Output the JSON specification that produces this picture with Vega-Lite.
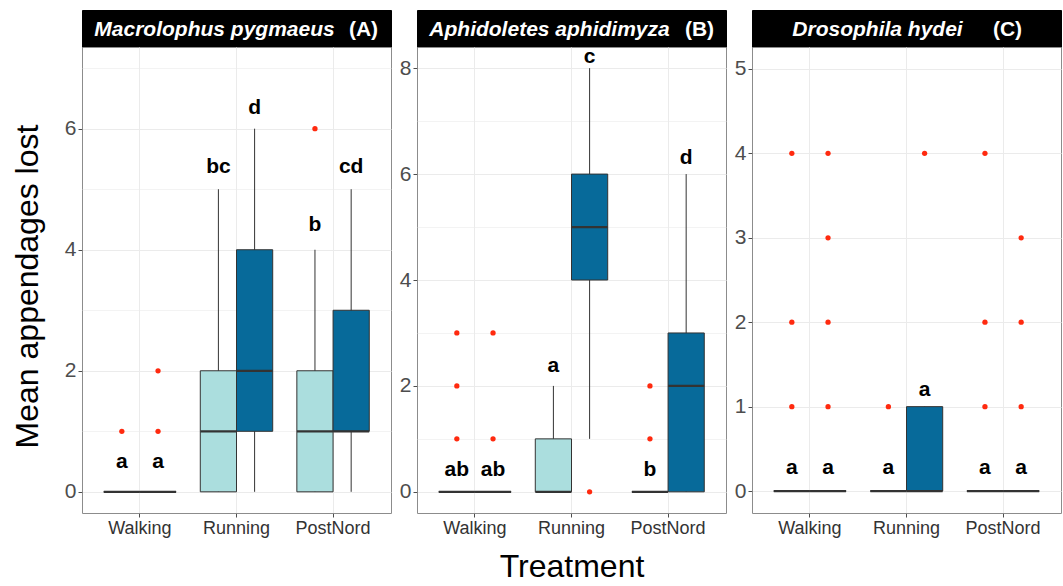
{
  "$schema": "https://vega.github.io/schema/vega-lite/v6.json",
  "background": "white",
  "padding": {"left": 10, "top": 9, "right": 3, "bottom": 5},
  "config": {
    "font": "Liberation Sans",
    "view": {"stroke": "#8c8c8c", "strokeWidth": 1},
    "axis": {
      "domain": false,
      "tickColor": "#4d4d4d",
      "tickSize": 4,
      "labelColor": "#4d4d4d",
      "labelFont": "Liberation Sans",
      "titleFont": "Liberation Sans",
      "titleFontSize": 32,
      "titleFontWeight": "normal",
      "titleColor": "black",
      "gridColor": "#ebebeb"
    }
  },
  "datasets": {
    "boxes": [
      {"panel": "A", "Treatment": "Walking", "group": "1", "lower": 0, "q1": 0, "median": 0, "q3": 0, "upper": 0, "label": "a", "labelY": 0.4},
      {"panel": "A", "Treatment": "Walking", "group": "2", "lower": 0, "q1": 0, "median": 0, "q3": 0, "upper": 0, "label": "a", "labelY": 0.4},
      {"panel": "A", "Treatment": "Running", "group": "1", "lower": 0, "q1": 0, "median": 1, "q3": 2, "upper": 5, "label": "bc", "labelY": 5.26},
      {"panel": "A", "Treatment": "Running", "group": "2", "lower": 0, "q1": 1, "median": 2, "q3": 4, "upper": 6, "label": "d", "labelY": 6.25},
      {"panel": "A", "Treatment": "PostNord", "group": "1", "lower": 0, "q1": 0, "median": 1, "q3": 2, "upper": 4, "label": "b", "labelY": 4.31},
      {"panel": "A", "Treatment": "PostNord", "group": "2", "lower": 0, "q1": 1, "median": 1, "q3": 3, "upper": 5, "label": "cd", "labelY": 5.26},
      {"panel": "B", "Treatment": "Walking", "group": "1", "lower": 0, "q1": 0, "median": 0, "q3": 0, "upper": 0, "label": "ab", "labelY": 0.3},
      {"panel": "B", "Treatment": "Walking", "group": "2", "lower": 0, "q1": 0, "median": 0, "q3": 0, "upper": 0, "label": "ab", "labelY": 0.3},
      {"panel": "B", "Treatment": "Running", "group": "1", "lower": 0, "q1": 0, "median": 0, "q3": 1, "upper": 2, "label": "a", "labelY": 2.27},
      {"panel": "B", "Treatment": "Running", "group": "2", "lower": 1, "q1": 4, "median": 5, "q3": 6, "upper": 8, "label": "c", "labelY": 8.09},
      {"panel": "B", "Treatment": "PostNord", "group": "1", "lower": 0, "q1": 0, "median": 0, "q3": 0, "upper": 0, "label": "b", "labelY": 0.3},
      {"panel": "B", "Treatment": "PostNord", "group": "2", "lower": 0, "q1": 0, "median": 2, "q3": 3, "upper": 6, "label": "d", "labelY": 6.2},
      {"panel": "C", "Treatment": "Walking", "group": "1", "lower": 0, "q1": 0, "median": 0, "q3": 0, "upper": 0, "label": "a", "labelY": 0.2},
      {"panel": "C", "Treatment": "Walking", "group": "2", "lower": 0, "q1": 0, "median": 0, "q3": 0, "upper": 0, "label": "a", "labelY": 0.2},
      {"panel": "C", "Treatment": "Running", "group": "1", "lower": 0, "q1": 0, "median": 0, "q3": 0, "upper": 0, "label": "a", "labelY": 0.2},
      {"panel": "C", "Treatment": "Running", "group": "2", "lower": 0, "q1": 0, "median": 0, "q3": 1, "upper": 1, "label": "a", "labelY": 1.13},
      {"panel": "C", "Treatment": "PostNord", "group": "1", "lower": 0, "q1": 0, "median": 0, "q3": 0, "upper": 0, "label": "a", "labelY": 0.2},
      {"panel": "C", "Treatment": "PostNord", "group": "2", "lower": 0, "q1": 0, "median": 0, "q3": 0, "upper": 0, "label": "a", "labelY": 0.2}
    ],
    "outliers": [
      {"panel": "A", "Treatment": "Walking", "group": "1", "value": 1},
      {"panel": "A", "Treatment": "Walking", "group": "2", "value": 1},
      {"panel": "A", "Treatment": "Walking", "group": "2", "value": 2},
      {"panel": "A", "Treatment": "PostNord", "group": "1", "value": 6},
      {"panel": "B", "Treatment": "Walking", "group": "1", "value": 1},
      {"panel": "B", "Treatment": "Walking", "group": "1", "value": 2},
      {"panel": "B", "Treatment": "Walking", "group": "1", "value": 3},
      {"panel": "B", "Treatment": "Walking", "group": "2", "value": 1},
      {"panel": "B", "Treatment": "Walking", "group": "2", "value": 3},
      {"panel": "B", "Treatment": "Running", "group": "2", "value": 0},
      {"panel": "B", "Treatment": "PostNord", "group": "1", "value": 1},
      {"panel": "B", "Treatment": "PostNord", "group": "1", "value": 2},
      {"panel": "C", "Treatment": "Walking", "group": "1", "value": 1},
      {"panel": "C", "Treatment": "Walking", "group": "1", "value": 2},
      {"panel": "C", "Treatment": "Walking", "group": "1", "value": 4},
      {"panel": "C", "Treatment": "Walking", "group": "2", "value": 1},
      {"panel": "C", "Treatment": "Walking", "group": "2", "value": 2},
      {"panel": "C", "Treatment": "Walking", "group": "2", "value": 3},
      {"panel": "C", "Treatment": "Walking", "group": "2", "value": 4},
      {"panel": "C", "Treatment": "Running", "group": "1", "value": 1},
      {"panel": "C", "Treatment": "Running", "group": "2", "value": 4},
      {"panel": "C", "Treatment": "PostNord", "group": "1", "value": 1},
      {"panel": "C", "Treatment": "PostNord", "group": "1", "value": 2},
      {"panel": "C", "Treatment": "PostNord", "group": "1", "value": 4},
      {"panel": "C", "Treatment": "PostNord", "group": "2", "value": 1},
      {"panel": "C", "Treatment": "PostNord", "group": "2", "value": 2},
      {"panel": "C", "Treatment": "PostNord", "group": "2", "value": 3}
    ]
  },
  "bounds": "flush",
  "columns": 3,
  "spacing": {"row": 0, "column": 26},
  "concat": [
    {
      "width": 309, "height": 37,
      "view": {"fill": "black", "stroke": "black"},
      "data": {"values": [{"species": "Macrolophus pygmaeus", "code": "(A)"}]},
      "layer": [
        {"mark": {"type": "text", "color": "white", "fontSize": 21, "fontWeight": "bold", "fontStyle": "italic", "baseline": "middle", "dx": -22, "dy": 1}, "encoding": {"text": {"field": "species"}}},
        {"mark": {"type": "text", "color": "white", "fontSize": 21, "fontWeight": "bold", "baseline": "middle", "dx": 127, "dy": 1}, "encoding": {"text": {"field": "code"}}}
      ]
    },
    {
      "width": 309, "height": 37,
      "view": {"fill": "black", "stroke": "black"},
      "data": {"values": [{"species": "Aphidoletes aphidimyza", "code": "(B)"}]},
      "layer": [
        {"mark": {"type": "text", "color": "white", "fontSize": 21, "fontWeight": "bold", "fontStyle": "italic", "baseline": "middle", "dx": -22, "dy": 1}, "encoding": {"text": {"field": "species"}}},
        {"mark": {"type": "text", "color": "white", "fontSize": 21, "fontWeight": "bold", "baseline": "middle", "dx": 128, "dy": 1}, "encoding": {"text": {"field": "code"}}}
      ]
    },
    {
      "width": 309, "height": 37,
      "view": {"fill": "black", "stroke": "black"},
      "data": {"values": [{"species": "Drosophila hydei", "code": "(C)"}]},
      "layer": [
        {"mark": {"type": "text", "color": "white", "fontSize": 21, "fontWeight": "bold", "fontStyle": "italic", "baseline": "middle", "dx": -29, "dy": 1}, "encoding": {"text": {"field": "species"}}},
        {"mark": {"type": "text", "color": "white", "fontSize": 21, "fontWeight": "bold", "baseline": "middle", "dx": 101, "dy": 1}, "encoding": {"text": {"field": "code"}}}
      ]
    },
    {
      "width": 309, "height": 466,
      "encoding": {
        "x": {"field": "Treatment", "type": "nominal", "sort": ["Walking", "Running", "PostNord"], "scale": {"paddingInner": 0.25, "paddingOuter": 0.225}, "axis": {"title": null, "labelAngle": 0, "labelFontSize": 18, "labelColor": "#333333", "labelPadding": 2, "grid": true, "bandPosition": 0.5}},
        "xOffset": {"field": "group", "type": "nominal", "sort": ["1", "2"], "scale": {"paddingInner": 0, "paddingOuter": 0}}
      },
      "layer": [
        {
          "data": {"name": "boxes"},
          "transform": [{"filter": "datum.panel === 'A'"}],
          "mark": {"type": "rule", "color": "#333333", "strokeWidth": 1},
          "encoding": {
            "y": {"field": "lower", "type": "quantitative", "title": "Mean appendages lost", "scale": {"domain": [-0.35, 7.35], "nice": false, "zero": false},
              "axis": {"values": [0, 1, 2, 3, 4, 5, 6, 7], "format": "d", "labelFontSize": 21, "labelPadding": 2, "titlePadding": 20, "titleY": 239, "labelExpr": "datum.value % 2 === 0 ? datum.label : ''", "tickOpacity": {"condition": {"test": "datum.value % 2 === 0", "value": 1}, "value": 0}, "gridWidth": {"condition": {"test": "datum.value % 2 === 0", "value": 1.1}, "value": 0.6}}},
            "y2": {"field": "upper"}
          }
        },
        {
          "data": {"name": "boxes"},
          "transform": [{"filter": "datum.panel === 'A'"}],
          "mark": {"type": "bar", "stroke": "#333333", "strokeWidth": 1},
          "encoding": {
            "y": {"field": "q1", "type": "quantitative", "title": "Mean appendages lost"},
            "y2": {"field": "q3"},
            "color": {"field": "group", "type": "nominal", "scale": {"domain": ["1", "2"], "range": ["#abdede", "#076a9a"]}, "legend": null}
          }
        },
        {
          "data": {"name": "boxes"},
          "transform": [{"filter": "datum.panel === 'A'"}],
          "mark": {"type": "tick", "orient": "horizontal", "color": "#333333", "thickness": 2.2, "size": 36, "opacity": 1},
          "encoding": {"y": {"field": "median", "type": "quantitative", "title": "Mean appendages lost"}}
        },
        {
          "data": {"name": "outliers"},
          "transform": [{"filter": "datum.panel === 'A'"}],
          "mark": {"type": "circle", "color": "#ff2a0f", "size": 28, "opacity": 1},
          "encoding": {"y": {"field": "value", "type": "quantitative", "title": "Mean appendages lost"}}
        },
        {
          "data": {"name": "boxes"},
          "transform": [{"filter": "datum.panel === 'A'"}],
          "mark": {"type": "text", "fontSize": 21, "fontWeight": "bold", "color": "black", "baseline": "alphabetic"},
          "encoding": {"y": {"field": "labelY", "type": "quantitative", "title": "Mean appendages lost"}, "text": {"field": "label"}}
        }
      ]
    },
    {
      "width": 309, "height": 466,
      "encoding": {
        "x": {"field": "Treatment", "type": "nominal", "sort": ["Walking", "Running", "PostNord"], "scale": {"paddingInner": 0.25, "paddingOuter": 0.225}, "axis": {"title": "Treatment", "titlePadding": 14, "labelAngle": 0, "labelFontSize": 18, "labelColor": "#333333", "labelPadding": 2, "grid": true, "bandPosition": 0.5}},
        "xOffset": {"field": "group", "type": "nominal", "sort": ["1", "2"], "scale": {"paddingInner": 0, "paddingOuter": 0}}
      },
      "layer": [
        {
          "data": {"name": "boxes"},
          "transform": [{"filter": "datum.panel === 'B'"}],
          "mark": {"type": "rule", "color": "#333333", "strokeWidth": 1},
          "encoding": {
            "y": {"field": "lower", "type": "quantitative", "title": null, "scale": {"domain": [-0.4, 8.4], "nice": false, "zero": false},
              "axis": {"values": [0, 1, 2, 3, 4, 5, 6, 7, 8], "format": "d", "labelFontSize": 21, "labelPadding": 2, "labelExpr": "datum.value % 2 === 0 ? datum.label : ''", "tickOpacity": {"condition": {"test": "datum.value % 2 === 0", "value": 1}, "value": 0}, "gridWidth": {"condition": {"test": "datum.value % 2 === 0", "value": 1.1}, "value": 0.6}}},
            "y2": {"field": "upper"}
          }
        },
        {
          "data": {"name": "boxes"},
          "transform": [{"filter": "datum.panel === 'B'"}],
          "mark": {"type": "bar", "stroke": "#333333", "strokeWidth": 1},
          "encoding": {
            "y": {"field": "q1", "type": "quantitative", "title": null},
            "y2": {"field": "q3"},
            "color": {"field": "group", "type": "nominal", "scale": {"domain": ["1", "2"], "range": ["#abdede", "#076a9a"]}, "legend": null}
          }
        },
        {
          "data": {"name": "boxes"},
          "transform": [{"filter": "datum.panel === 'B'"}],
          "mark": {"type": "tick", "orient": "horizontal", "color": "#333333", "thickness": 2.2, "size": 36, "opacity": 1},
          "encoding": {"y": {"field": "median", "type": "quantitative", "title": null}}
        },
        {
          "data": {"name": "outliers"},
          "transform": [{"filter": "datum.panel === 'B'"}],
          "mark": {"type": "circle", "color": "#ff2a0f", "size": 28, "opacity": 1},
          "encoding": {"y": {"field": "value", "type": "quantitative", "title": null}}
        },
        {
          "data": {"name": "boxes"},
          "transform": [{"filter": "datum.panel === 'B'"}],
          "mark": {"type": "text", "fontSize": 21, "fontWeight": "bold", "color": "black", "baseline": "alphabetic"},
          "encoding": {"y": {"field": "labelY", "type": "quantitative", "title": null}, "text": {"field": "label"}}
        }
      ]
    },
    {
      "width": 309, "height": 466,
      "encoding": {
        "x": {"field": "Treatment", "type": "nominal", "sort": ["Walking", "Running", "PostNord"], "scale": {"paddingInner": 0.25, "paddingOuter": 0.225}, "axis": {"title": null, "labelAngle": 0, "labelFontSize": 18, "labelColor": "#333333", "labelPadding": 2, "grid": true, "bandPosition": 0.5}},
        "xOffset": {"field": "group", "type": "nominal", "sort": ["1", "2"], "scale": {"paddingInner": 0, "paddingOuter": 0}}
      },
      "layer": [
        {
          "data": {"name": "boxes"},
          "transform": [{"filter": "datum.panel === 'C'"}],
          "mark": {"type": "rule", "color": "#333333", "strokeWidth": 1},
          "encoding": {
            "y": {"field": "lower", "type": "quantitative", "title": null, "scale": {"domain": [-0.26, 5.26], "nice": false, "zero": false},
              "axis": {"values": [0, 0.5, 1, 1.5, 2, 2.5, 3, 3.5, 4, 4.5, 5], "format": "d", "labelFontSize": 21, "labelPadding": 2, "labelExpr": "datum.value % 1 === 0 ? datum.label : ''", "tickOpacity": {"condition": {"test": "datum.value % 1 === 0", "value": 1}, "value": 0}, "gridWidth": {"condition": {"test": "datum.value % 1 === 0", "value": 1.1}, "value": 0.6}}},
            "y2": {"field": "upper"}
          }
        },
        {
          "data": {"name": "boxes"},
          "transform": [{"filter": "datum.panel === 'C'"}],
          "mark": {"type": "bar", "stroke": "#333333", "strokeWidth": 1},
          "encoding": {
            "y": {"field": "q1", "type": "quantitative", "title": null},
            "y2": {"field": "q3"},
            "color": {"field": "group", "type": "nominal", "scale": {"domain": ["1", "2"], "range": ["#abdede", "#076a9a"]}, "legend": null}
          }
        },
        {
          "data": {"name": "boxes"},
          "transform": [{"filter": "datum.panel === 'C'"}],
          "mark": {"type": "tick", "orient": "horizontal", "color": "#333333", "thickness": 2.2, "size": 36, "opacity": 1},
          "encoding": {"y": {"field": "median", "type": "quantitative", "title": null}}
        },
        {
          "data": {"name": "outliers"},
          "transform": [{"filter": "datum.panel === 'C'"}],
          "mark": {"type": "circle", "color": "#ff2a0f", "size": 28, "opacity": 1},
          "encoding": {"y": {"field": "value", "type": "quantitative", "title": null}}
        },
        {
          "data": {"name": "boxes"},
          "transform": [{"filter": "datum.panel === 'C'"}],
          "mark": {"type": "text", "fontSize": 21, "fontWeight": "bold", "color": "black", "baseline": "alphabetic"},
          "encoding": {"y": {"field": "labelY", "type": "quantitative", "title": null}, "text": {"field": "label"}}
        }
      ]
    }
  ]
}
